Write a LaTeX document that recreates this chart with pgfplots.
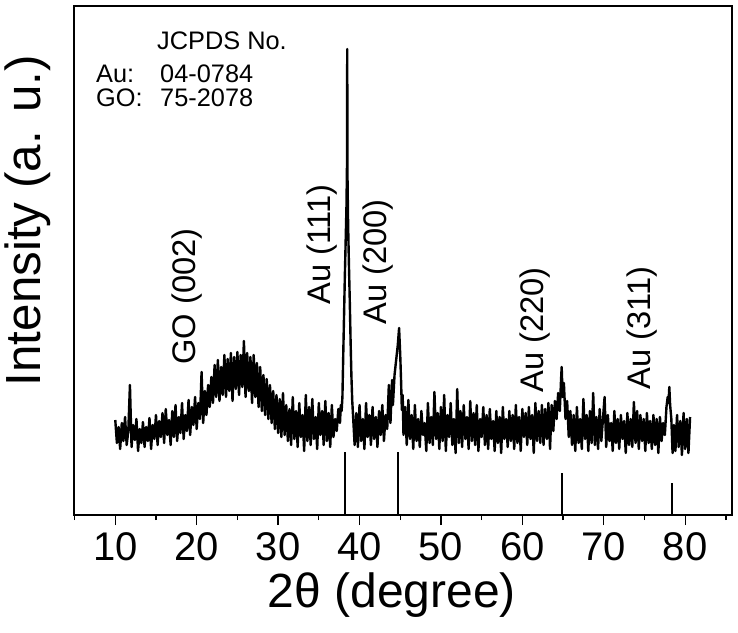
\documentclass[border=0pt]{standalone}
\usepackage{fontspec}
\setmainfont{Liberation Sans}
\usepackage{pgfplots}
\pgfplotsset{compat=1.18}
\begin{document}
\begin{tikzpicture}
\begin{axis}[name=ax, at={(0,0)}, anchor=south west, scale only axis,
  width=493.5pt, height=381.75pt,
  xmin=4.93, xmax=85.75, ymin=0, ymax=509,
  axis line style={line width=1pt},
  ytick=\empty,
  xtick={10,20,...,80}, minor xtick={5,15,...,85},
  xtick pos=bottom, tick align=outside,
  major tick length=7.5pt, minor tick length=3.75pt,
  every tick/.style={line width=1pt, black},
  ticklabel style={font=\fontsize{30}{30}\selectfont, inner sep=1pt},
  xticklabel style={yshift=-4.5pt},
  /pgf/number format/assume math mode=true,
  clip=false]
\addplot[black, line width=1.8pt, line join=round] coordinates {
(10.0,95)(10.2,72)(10.4,88)(10.6,66)(10.8,92)(11.0,74)(11.2,98)(11.4,70)(11.6,84)(11.8,130)
(12.0,68)(12.2,90)(12.4,75)(12.6,96)(12.8,64)(13.0,86)(13.2,72)(13.4,93)(13.6,68)(13.8,88)
(14.0,74)(14.2,97)(14.4,66)(14.6,90)(14.8,76)(15.0,100)(15.2,70)(15.4,94)(15.6,78)(15.8,102)
(16.0,72)(16.2,106)(16.4,80)(16.6,95)(16.8,70)(17.0,104)(17.2,78)(17.4,110)(17.6,74)(17.8,98)
(18.0,82)(18.2,112)(18.4,76)(18.6,100)(18.8,84)(19.0,115)(19.2,80)(19.4,108)(19.6,90)(19.8,118)
(20.0,86)(20.2,112)(20.4,96)(20.6,143)(20.8,92)(21.0,124)(21.2,100)(21.4,130)(21.6,108)(21.8,138)
(22.0,112)(22.2,150)(22.4,118)(22.6,155)(22.8,114)(23.0,148)(23.2,120)(23.4,160)(23.6,118)(23.8,156)
(24.0,124)(24.2,162)(24.4,114)(24.6,158)(24.8,126)(25.0,163)(25.2,120)(25.4,160)(25.6,128)(25.8,174)
(26.0,118)(26.2,162)(26.4,124)(26.6,158)(26.8,112)(27.0,160)(27.2,118)(27.4,152)(27.6,108)(27.8,148)
(28.0,104)(28.2,140)(28.4,100)(28.6,136)(28.8,96)(29.0,130)(29.2,92)(29.4,124)(29.6,86)(29.8,120)
(30.0,82)(30.2,116)(30.4,78)(30.6,122)(30.8,80)(31.0,110)(31.2,74)(31.4,106)(31.6,70)(31.8,118)
(32.0,76)(32.2,104)(32.4,68)(32.6,112)(32.8,78)(33.0,100)(33.2,64)(33.4,120)(33.6,74)(33.8,108)
(34.0,70)(34.2,116)(34.4,76)(34.6,98)(34.8,66)(35.0,112)(35.2,80)(35.4,104)(35.6,70)(35.8,114)
(36.0,74)(36.2,102)(36.4,68)(36.6,110)(36.8,78)(37.0,96)(37.2,84)(37.4,106)(37.6,92)(37.7,110)
(37.8,104)(37.9,118)(38.0,160)(38.1,200)(38.2,240)(38.3,275)(38.4,310)(38.46,350)(38.49,466)(38.52,340)
(38.6,290)(38.7,250)(38.8,215)(38.9,175)(39.0,140)(39.1,115)(39.2,100)
(39.4,70)(39.6,102)(39.8,68)(40.0,110)(40.2,74)(40.4,96)(40.6,66)(40.8,112)(41.0,78)(41.2,100)
(41.4,70)(41.6,108)(41.8,76)(42.0,98)(42.2,68)(42.4,104)(42.6,80)(42.8,110)(43.0,74)(43.2,100)
(43.4,86)(43.6,130)(43.8,92)(44.0,135)(44.1,110)(44.3,140)(44.5,155)(44.7,170)(44.86,187)(45.0,160)
(45.1,135)(45.2,105)(45.3,120)(45.4,80)
(45.6,108)(45.8,70)(46.0,115)(46.2,76)(46.4,100)(46.6,66)(46.8,110)(47.0,74)(47.2,96)(47.4,68)
(47.6,104)(47.8,80)(48.0,92)(48.2,64)(48.4,112)(48.6,72)(48.8,98)(49.0,70)(49.2,123)(49.4,76)
(49.6,102)(49.8,66)(50.0,108)(50.2,74)(50.4,120)(50.6,64)(50.8,100)(51.0,78)(51.2,112)(51.4,70)
(51.6,96)(51.8,62)(52.0,126)(52.2,72)(52.4,104)(52.6,68)(52.8,110)(53.0,76)(53.2,98)(53.4,66)
(53.6,114)(53.8,74)(54.0,102)(54.2,70)(54.4,110)(54.6,64)(54.8,96)(55.0,78)(55.2,108)(55.4,70)
(55.6,100)(55.8,66)(56.0,106)(56.2,76)(56.4,94)(56.6,64)(56.8,104)(57.0,72)(57.2,98)(57.4,62)
(57.6,108)(57.8,76)(58.0,96)(58.2,68)(58.4,104)(58.6,74)(58.8,100)(59.0,66)(59.2,110)(59.4,72)
(59.6,98)(59.8,64)(60.0,106)(60.2,78)(60.4,102)(60.6,70)(60.8,108)(61.0,76)(61.2,100)(61.4,62)
(61.6,112)(61.8,74)(62.0,104)(62.2,72)(62.4,110)(62.6,70)(62.8,106)(63.0,76)(63.2,112)(63.4,66)
(63.6,110)(63.8,84)(64.0,114)(64.2,96)(64.4,122)(64.6,104)(64.75,135)(64.83,148)(64.95,118)(65.1,132)
(65.3,96)(65.5,114)(65.7,78)(65.9,104)(66.1,70)(66.3,100)(66.5,64)(66.7,108)(66.9,72)(67.1,96)
(67.3,66)(67.5,116)(67.7,76)(67.9,100)(68.1,64)(68.3,104)(68.5,72)(68.7,122)(68.9,70)(69.1,98)
(69.3,66)(69.5,106)(69.7,74)(69.9,96)(70.1,118)(70.3,68)(70.5,100)(70.7,74)(70.9,92)(71.1,64)
(71.3,104)(71.5,72)(71.7,96)(71.9,66)(72.1,100)(72.3,76)(72.5,94)(72.7,62)(72.9,102)(73.1,70)
(73.3,96)(73.5,68)(73.7,113)(73.9,72)(74.1,104)(74.3,66)(74.5,100)(74.7,74)(74.9,96)(75.1,64)
(75.3,102)(75.5,72)(75.7,94)(75.9,66)(76.1,100)(76.3,70)(76.5,96)(76.7,62)(76.9,98)(77.1,74)
(77.3,92)(77.5,80)(77.7,108)(77.85,118)(77.95,112)(78.05,128)(78.15,110)(78.3,96)(78.45,62)(78.6,90)
(78.8,64)(79.0,100)(79.2,68)(79.4,94)(79.6,60)(79.8,102)(80.0,66)(80.2,96)(80.4,62)(80.6,98)
};
\addplot[ycomb, black, line width=1.5pt, mark=none] coordinates {(38.24,63)(44.7,63)(64.82,42)(78.35,32)};
\node[rotate=90, anchor=west, inner sep=0pt, font=\fontsize{24.5}{24.5}\selectfont] at (axis cs:18.81,150) {GO (002)};
\node[rotate=90, anchor=west, inner sep=0pt, font=\fontsize{24.5}{24.5}\selectfont] at (axis cs:35.40,210) {Au (111)};
\node[rotate=90, anchor=west, inner sep=0pt, font=\fontsize{24.5}{24.5}\selectfont] at (axis cs:42.27,190) {Au (200)};
\node[rotate=90, anchor=west, inner sep=0pt, font=\fontsize{24.5}{24.5}\selectfont] at (axis cs:61.55,122) {Au (220)};
\node[rotate=90, anchor=west, inner sep=0pt, font=\fontsize{24.5}{24.5}\selectfont] at (axis cs:74.69,125) {Au (311)};
\node[anchor=base west, inner sep=0pt, font=\fontsize{19}{19}\selectfont] at (axis cs:15.12,465) {JCPDS No.};
\node[anchor=base west, inner sep=0pt, font=\fontsize{19}{19}\selectfont] at (axis cs:7.63,432) {Au:};
\node[anchor=base west, inner sep=0pt, font=\fontsize{19}{19}\selectfont] at (axis cs:15.49,432) {04-0784};
\node[anchor=base west, inner sep=0pt, font=\fontsize{19}{19}\selectfont] at (axis cs:7.63,408) {GO:};
\node[anchor=base west, inner sep=0pt, font=\fontsize{19}{19}\selectfont] at (axis cs:15.49,408) {75-2078};
\node[anchor=base, inner sep=0pt, font=\fontsize{36}{36}\selectfont] at (axis description cs:0.483,-0.181) {2θ (degree)};
\node[rotate=90, anchor=center, inner sep=0pt, font=\fontsize{37}{37}\selectfont] at ([xshift=-34.5pt]axis description cs:0,0.578) {Intensity (a. u.)};
\end{axis}
\pgfresetboundingbox
\path (-55.5pt,-87.75pt) rectangle (498pt,386.25pt);
\end{tikzpicture}
\end{document}
